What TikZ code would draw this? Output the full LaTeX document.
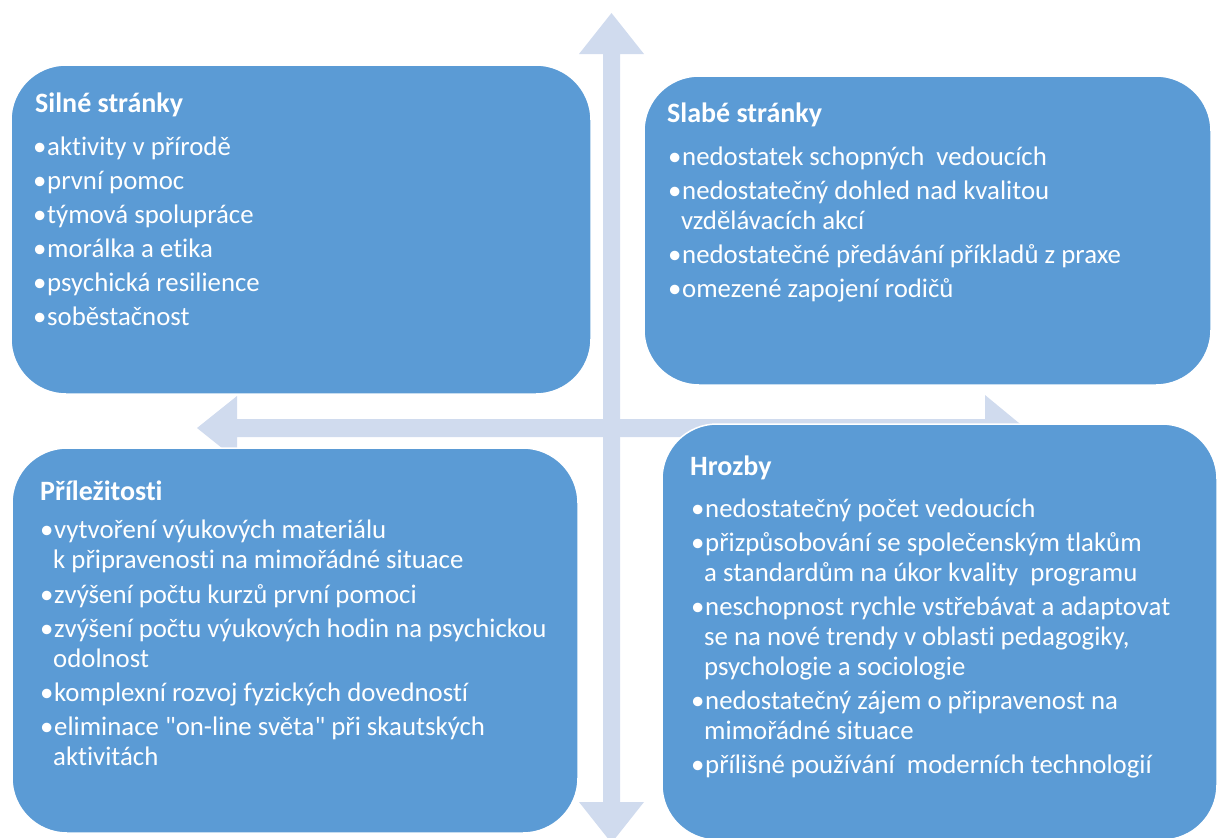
\documentclass[tikz,border=0pt]{standalone}
\usepackage{fontspec}
\setmainfont{Carlito}
\newfontfamily\calfont{Carlito}[Ligatures=NoCommon]
\definecolor{boxblue}{RGB}{91,155,213}
\definecolor{arrowblue}{RGB}{208,219,238}
\newcommand\swtitle[3]{\node[ttl] (#1) at (#2) {#3};}
\newcommand\swbul[3]{\node[txt] (#1) at (#2) {\makebox[14bp][l]{•}#3};}
\newcommand\swcont[3]{\node[txt] (#1) at (#2) {#3};}
\begin{document}
\begin{tikzpicture}[x=1bp,y=-1bp,
  quad/.style={fill=boxblue,draw=white,line width=1.5bp,rounded corners=55bp},
  arr/.style={fill=arrowblue,draw=none},
  ttl/.style={anchor=base west,inner sep=0pt,text=white,font=\calfont\fontsize{28bp}{30bp}\selectfont\bfseries},
  txt/.style={anchor=base west,inner sep=0pt,text=white,font=\calfont\fontsize{26.8bp}{30bp}\selectfont}]
\useasboundingbox (0,0) rectangle (1219,838);
% arrows
\fill[arr] (611.5,13) -- (644,54) -- (620,54) -- (620,802) -- (644,802) -- (611.5,843)
  -- (579,802) -- (603,802) -- (603,54) -- (579,54) -- cycle;
\fill[arr] (197,428) -- (237,396) -- (237,419) -- (985,419) -- (985,395) -- (1025,428)
  -- (985,461) -- (985,437) -- (237,437) -- (237,460) -- cycle;
% quadrants
\draw[quad] (11,65) rectangle (591,394);
\draw[quad] (644,76) rectangle (1211,385);
\draw[quad] (12,448) rectangle (578,833);
\draw[quad] (662,424) rectangle (1217,840);
% Silné stránky
\swtitle{s0}{35,112}{Silné stránky}
\swbul{s1}{33,155}{aktivity v přírodě}
\swbul{s2}{33,189}{první pomoc}
\swbul{s3}{33,223}{týmová spolupráce}
\swbul{s4}{33,257}{morálka a etika}
\swbul{s5}{33,291}{psychická resilience}
\swbul{s6}{33,325}{soběstačnost}
% Slabé stránky
\swtitle{w0}{667,122}{Slabé stránky}
\swbul{w1}{668,165}{nedostatek schopných\ \ vedoucích}
\swbul{w2}{668,199}{nedostatečný dohled nad kvalitou}
\swcont{w2b}{681,229}{vzdělávacích akcí}
\swbul{w3}{668,263}{nedostatečné předávání příkladů z praxe}
\swbul{w4}{668,297}{omezené zapojení rodičů}
% Příležitosti
\swtitle{o0}{40,500}{Příležitosti}
\swbul{o1}{40,538}{vytvoření výukových materiálu}
\swcont{o1b}{53,568}{k připravenosti na mimořádné situace}
\swbul{o2}{40,603}{zvýšení počtu kurzů první pomoci}
\swbul{o3}{40,637}{zvýšení počtu výukových hodin na psychickou}
\swcont{o3b}{53,667}{odolnost}
\swbul{o4}{40,701}{komplexní rozvoj fyzických dovedností}
\swbul{o5}{40,735}{eliminace "on-line světa" při skautských}
\swcont{o5b}{53,765}{aktivitách}
% Hrozby
\swtitle{t0}{690,475}{Hrozby}
\swbul{t1}{691,517}{nedostatečný počet vedoucích}
\swbul{t2}{691,551}{přizpůsobování se společenským tlakům}
\swcont{t2b}{704,581}{a standardům na úkor kvality\ \ programu}
\swbul{t3}{691,615}{neschopnost rychle vstřebávat a adaptovat}
\swcont{t3b}{704,645}{se na nové trendy v oblasti pedagogiky,}
\swcont{t3c}{704,675}{psychologie a sociologie}
\swbul{t4}{691,709}{nedostatečný zájem o připravenost na}
\swcont{t4b}{704,739}{mimořádné situace}
\swbul{t5}{691,773}{přílišné používání\ \ moderních technologií}
\end{tikzpicture}
\end{document}
